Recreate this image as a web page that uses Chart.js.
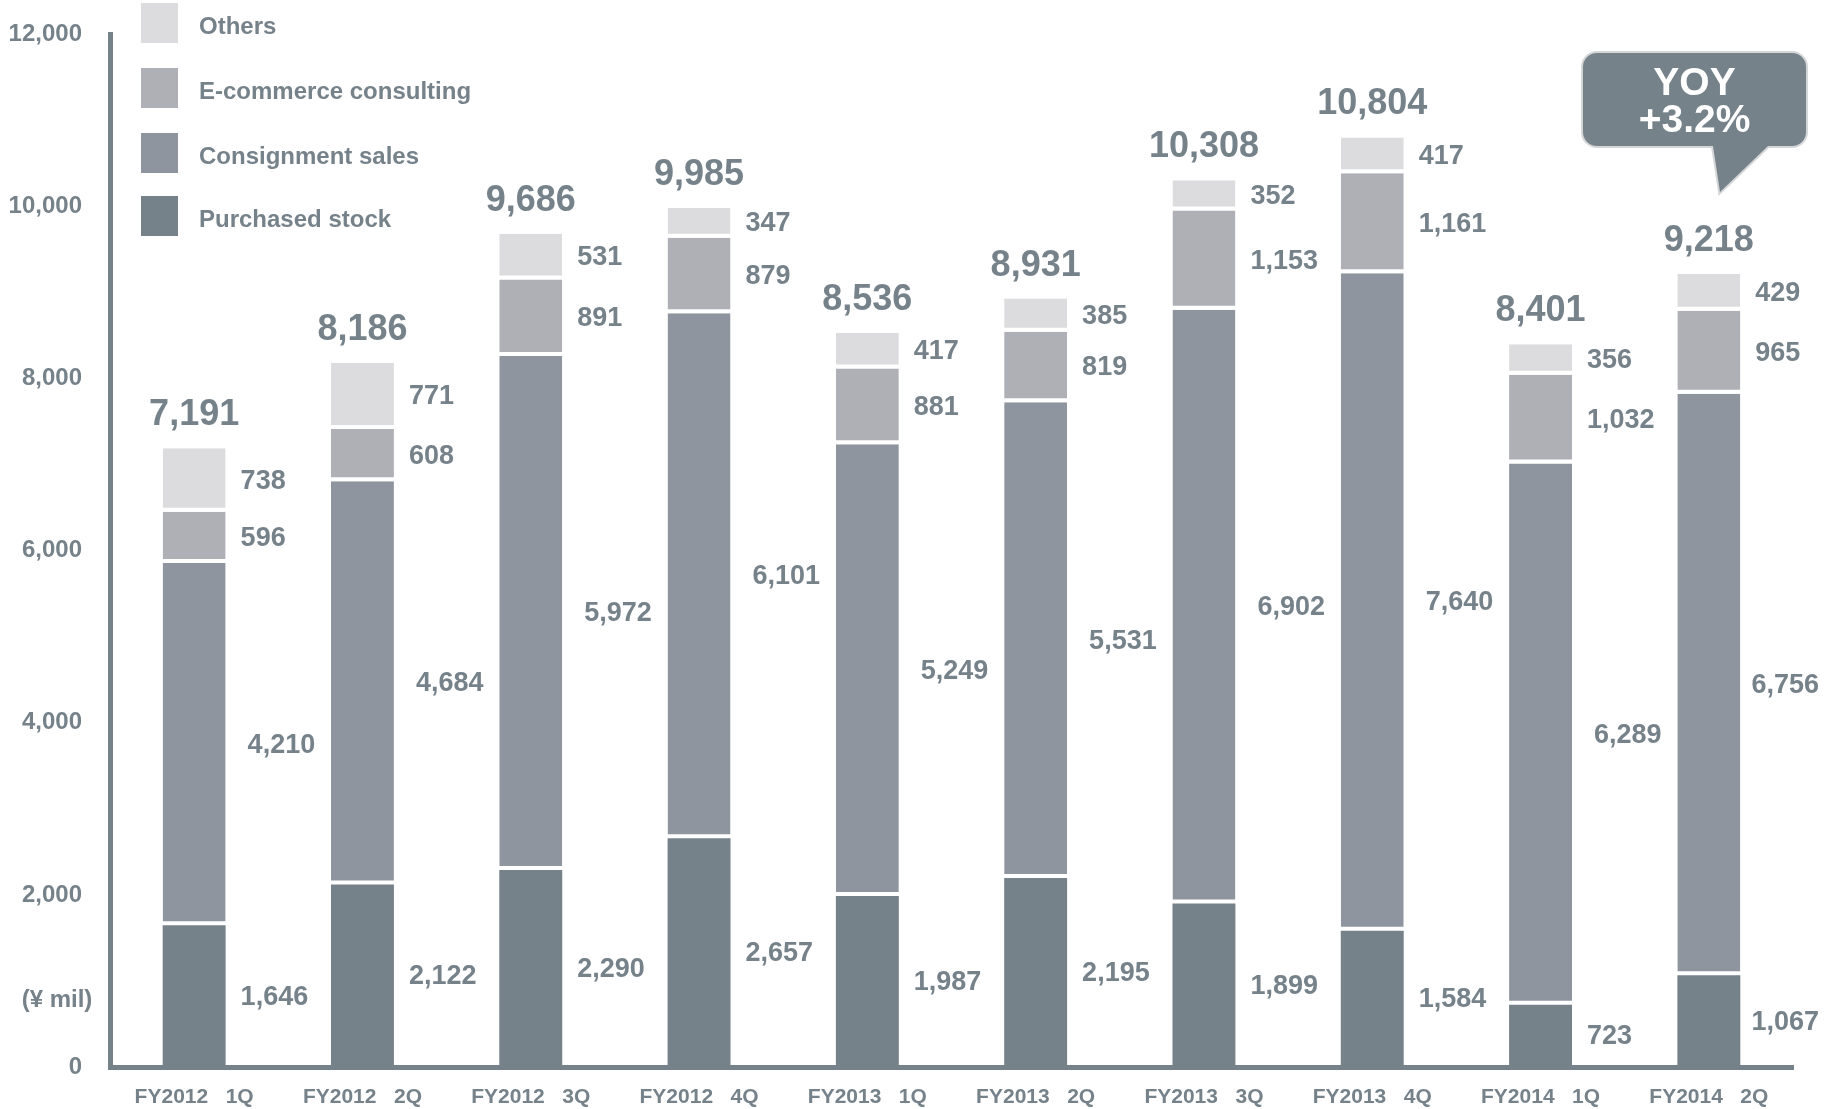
<!DOCTYPE html>
<html>
<head>
<meta charset="utf-8">
<title>Net sales by business</title>
<script src="https://cdn.jsdelivr.net/npm/chart.js@4"></script>
<style>
  body { margin: 0; background: #fff; }
  canvas { display: block; }
</style>
</head>
<body>
<canvas id="salesChart" width="1825" height="1109"></canvas>
<script>
// Quarterly sales (¥ mil) split by business
const quarters = ['FY2012   1Q', 'FY2012   2Q', 'FY2012   3Q', 'FY2012   4Q', 'FY2013   1Q',
                  'FY2013   2Q', 'FY2013   3Q', 'FY2013   4Q', 'FY2014   1Q', 'FY2014   2Q'];
const purchasedStock = [1646, 2122, 2290, 2657, 1987, 2195, 1899, 1584, 723, 1067];
const consignmentSales = [4210, 4684, 5972, 6101, 5249, 5531, 6902, 7640, 6289, 6756];
const ecommerceConsulting = [596, 608, 891, 879, 881, 819, 1153, 1161, 1032, 965];
const others = [738, 771, 531, 347, 417, 385, 352, 417, 356, 429];
const totalSales = [7191, 8186, 9686, 9985, 8536, 8931, 10308, 10804, 8401, 9218];
const yoyText = ['YOY', '+3.2%'];
const unitLabel = '(¥ mil)';

const TEXT = '#76828a';
const FONT = '"Liberation Sans", Arial, Helvetica, sans-serif';
const fmt = v => v.toLocaleString('en-US');

// segment labels sit right of the bar; consignment is pushed a bit further out
const labelGap = [15, 22, 15, 15];

const valueLabels = {
    id: 'valueLabels',
    afterDatasetsDraw(chart) {
        const ctx = chart.ctx;
        ctx.save();
        ctx.fillStyle = TEXT;
        ctx.font = 'bold 27px ' + FONT;
        ctx.textAlign = 'left';
        ctx.textBaseline = 'middle';
        chart.data.datasets.forEach((ds, di) => {
            chart.getDatasetMeta(di).data.forEach((bar, i) => {
                const text = fmt(ds.data[i]);
                const mid = (bar.y + bar.base) / 2;
                // keep the last column's labels inside the canvas
                const x = Math.min(bar.x + bar.width / 2 + labelGap[di],
                                   chart.width - 6 - ctx.measureText(text).width);
                ctx.fillText(text, x, mid + 1);
            });
        });
        // totals above each stack
        const topMeta = chart.getDatasetMeta(chart.data.datasets.length - 1);
        ctx.font = 'bold 36px ' + FONT;
        ctx.textAlign = 'center';
        ctx.textBaseline = 'alphabetic';
        topMeta.data.forEach((bar, i) => {
            ctx.fillText(fmt(totalSales[i]), bar.x, bar.y - 23);
        });
        ctx.restore();
    }
};

const decorations = {
    id: 'decorations',
    afterDraw(chart) {
        const ctx = chart.ctx;
        ctx.save();

        // legend, top item first
        const tops = [3, 68, 133, 196];
        const items = chart.data.datasets.slice().reverse();
        ctx.font = 'bold 24px ' + FONT;
        ctx.textAlign = 'left';
        ctx.textBaseline = 'middle';
        items.forEach((ds, k) => {
            ctx.fillStyle = ds.backgroundColor;
            ctx.fillRect(141, tops[k], 37, 40);
            ctx.fillStyle = TEXT;
            ctx.fillText(ds.label, 199, tops[k] + 24);
        });

        // unit label beside the y axis
        ctx.textAlign = 'center';
        ctx.fillText(unitLabel, 57, 1000);

        // YOY speech bubble
        const L = 1583, T = 53, R = 1806, B = 146, r = 14;
        ctx.beginPath();
        ctx.moveTo(L + r, T);
        ctx.lineTo(R - r, T);
        ctx.arcTo(R, T, R, T + r, r);
        ctx.lineTo(R, B - r);
        ctx.arcTo(R, B, R - r, B, r);
        ctx.lineTo(1768, B);
        ctx.lineTo(1720, 192);
        ctx.lineTo(1713, B);
        ctx.lineTo(L + r, B);
        ctx.arcTo(L, B, L, B - r, r);
        ctx.lineTo(L, T + r);
        ctx.arcTo(L, T, L + r, T, r);
        ctx.closePath();
        ctx.strokeStyle = '#d4d6d8';
        ctx.lineWidth = 4;
        ctx.stroke();
        ctx.fillStyle = '#76828a';
        ctx.fill();

        ctx.fillStyle = '#ffffff';
        ctx.font = 'bold 39px ' + FONT;
        ctx.fillText(yoyText[0], (L + R) / 2, 84);
        ctx.fillText(yoyText[1], (L + R) / 2, 121);
        ctx.restore();
    }
};

function segment(label, data, color, gap) {
    return {
        label,
        data,
        backgroundColor: color,
        borderColor: '#ffffff',
        borderWidth: { top: 0, left: 0, right: 0, bottom: gap },
        borderSkipped: false,
        categoryPercentage: 1,
        barPercentage: 0.374
    };
}

const ctx = document.getElementById('salesChart').getContext('2d');
const salesChart = new Chart(ctx, {
    type: 'bar',
    data: {
        labels: quarters,
        datasets: [
            segment('Purchased stock', purchasedStock, '#76828a', 0),
            segment('Consignment sales', consignmentSales, '#8f959e', 4),
            segment('E-commerce consulting', ecommerceConsulting, '#aeb0b6', 4),
            segment('Others', others, '#dcdcde', 4)
        ]
    },
    options: {
        responsive: false,
        animation: false,
        layout: { padding: { top: 15, right: 32, left: 0, bottom: 0 } },
        plugins: {
            legend: { display: false },
            tooltip: { enabled: false }
        },
        scales: {
            x: {
                stacked: true,
                grid: { display: false },
                border: { display: true, color: '#76828a', width: 5 },
                ticks: {
                    color: TEXT,
                    font: { family: FONT, size: 21, weight: 'bold' },
                    padding: 10,
                    maxRotation: 0
                },
                afterFit(scale) { scale.height = 42; }
            },
            y: {
                stacked: true,
                min: 0,
                max: 12000,
                grid: { display: false },
                border: { display: true, color: '#76828a', width: 5 },
                ticks: {
                    stepSize: 2000,
                    color: TEXT,
                    font: { family: FONT, size: 24, weight: 'bold' },
                    padding: 20,
                    callback: v => fmt(v)
                },
                afterFit(scale) { scale.width = 110; }
            }
        }
    },
    plugins: [valueLabels, decorations]
});
</script>
</body>
</html>
